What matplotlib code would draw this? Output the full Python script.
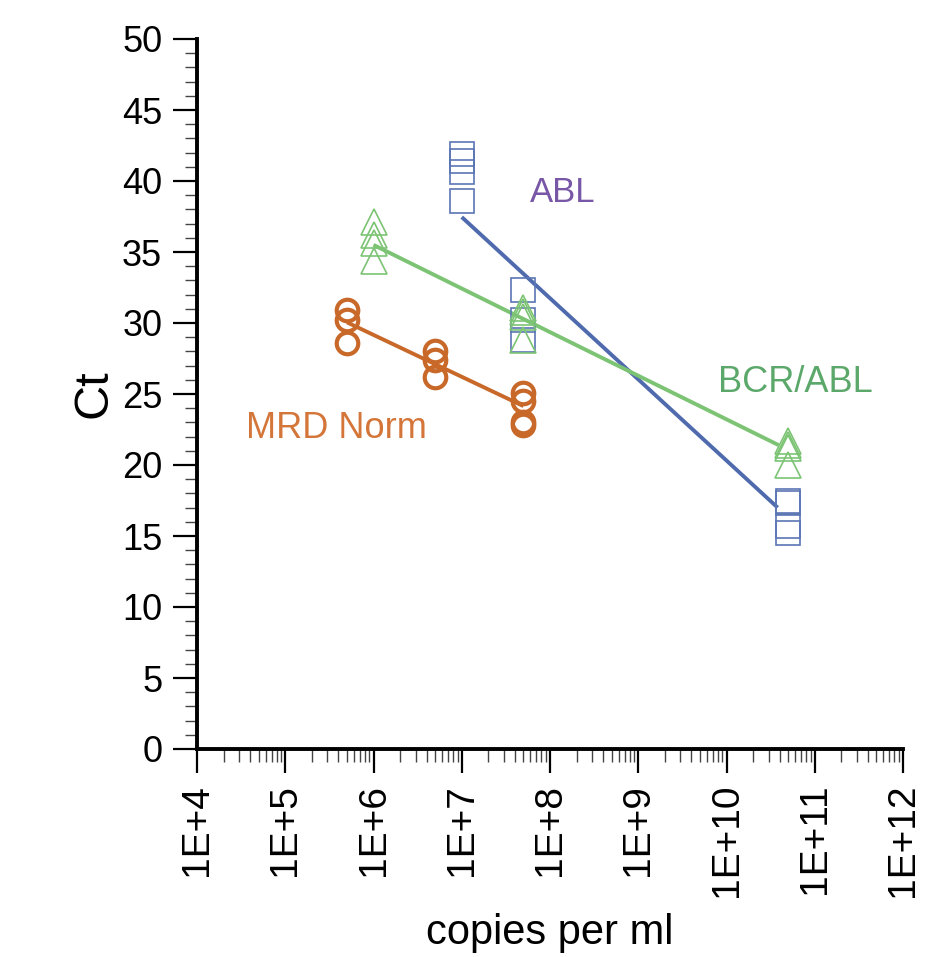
import numpy as np
import matplotlib
matplotlib.use('Agg')
import matplotlib.pyplot as plt
from matplotlib.ticker import FixedLocator, MultipleLocator, LogLocator, NullFormatter

plt.rcParams['font.family'] = ['Liberation Sans', 'DejaVu Sans']

# MRD Norm (circles)
mrd_x = [5e5, 5e5, 5e5, 5e6, 5e6, 5e6, 5e7, 5e7, 5e7, 5e7]
mrd_ct = [30.9, 30.2, 28.6, 28.0, 27.4, 26.2, 25.1, 24.5, 23.0, 22.8]
mrd_fit_x = [5e5, 5e7]
mrd_fit_ct = [30.05, 24.15]

# BCR/ABL (triangles)
bcr_x = [1e6, 1e6, 1e6, 1e6, 5e7, 5e7, 5e7, 5e7, 5e10, 5e10, 5e10, 5e10]
bcr_ct = [37.1, 36.2, 35.6, 34.4, 31.05, 30.8, 30.4, 28.8, 21.7, 21.4, 21.2, 20.0]
bcr_fit_x = [1e6, 3.9e10]
bcr_fit_ct = [35.5, 21.4]

# ABL (squares)
abl_x = [1e7, 1e7, 1e7, 1e7, 5e7, 5e7, 5e7, 5e10, 5e10, 5e10, 5e10]
abl_ct = [41.9, 41.4, 40.6, 38.6, 32.3, 30.2, 28.8, 17.5, 17.3, 15.7, 15.2]
abl_fit_x = [1e7, 3.8e10]
abl_fit_ct = [37.46, 17.0]

x_exponents = list(range(4, 13))
y_major = list(range(0, 51, 5))

orange = '#C8692A'
blue = '#4F6BAE'
green = '#7CC474'

fig = plt.figure(figsize=(9.51, 9.57), dpi=100)
ax = fig.add_axes([197/951, 1 - 749/957, 706/951, 710/957])

# fit lines
ax.plot(abl_fit_x, abl_fit_ct, color=blue, lw=2.8, solid_capstyle='butt', zorder=2)
ax.plot(bcr_fit_x, bcr_fit_ct, color=green, lw=2.8, solid_capstyle='butt', zorder=2)
ax.plot(mrd_fit_x, mrd_fit_ct, color=orange, lw=2.8, solid_capstyle='butt', zorder=2)

# markers
ax.plot(abl_x, abl_ct, ls='none', marker='s', ms=17.5, mfc='none', mec='#5B76B5', mew=1.2, zorder=3)
ax.plot(bcr_x, bcr_ct, ls='none', marker='^', ms=19, mfc='none', mec=green, mew=1.2, zorder=3)
ax.plot(mrd_x, mrd_ct, ls='none', marker='o', ms=15.5, mfc='none', mec=orange, mew=3.0, zorder=3)

# series labels
ax.text(10**7.77, 39.2, 'ABL', color='#7757A6', fontsize=25, va='center', ha='left')
ax.text(10**9.9, 25.8, 'BCR/ABL', color='#5BA86A', fontsize=26, va='center', ha='left')
ax.text(10**4.555, 22.6, 'MRD Norm', color='#D4763A', fontsize=26, va='center', ha='left')

ax.set_xscale('log')
ax.set_xlim(1e4, 1e12)
ax.set_ylim(0, 50)

ax.xaxis.set_major_locator(FixedLocator([10.0**e for e in x_exponents]))
ax.set_xticklabels(['1E+%d' % e for e in x_exponents], rotation=90)
ax.xaxis.set_minor_locator(LogLocator(base=10, subs=np.arange(2, 10), numticks=50))
ax.xaxis.set_minor_formatter(NullFormatter())

ax.yaxis.set_major_locator(FixedLocator(y_major))
ax.yaxis.set_minor_locator(MultipleLocator(1))

for s in ['top', 'right']:
    ax.spines[s].set_visible(False)
for s in ['left', 'bottom']:
    ax.spines[s].set_linewidth(2.8)

ax.tick_params(which='major', direction='out', length=17, width=1.6, pad=8, colors='black')
ax.tick_params(axis='y', which='major', labelsize=26)
ax.tick_params(axis='x', which='major', labelsize=28)
ax.tick_params(which='minor', direction='out', length=9, width=1.0, colors='#444444')

ax.set_ylabel('Ct', fontsize=35, labelpad=4)
ax.set_xlabel('copies per ml', fontsize=30, labelpad=11)

fig.savefig('out.png', dpi=100)
